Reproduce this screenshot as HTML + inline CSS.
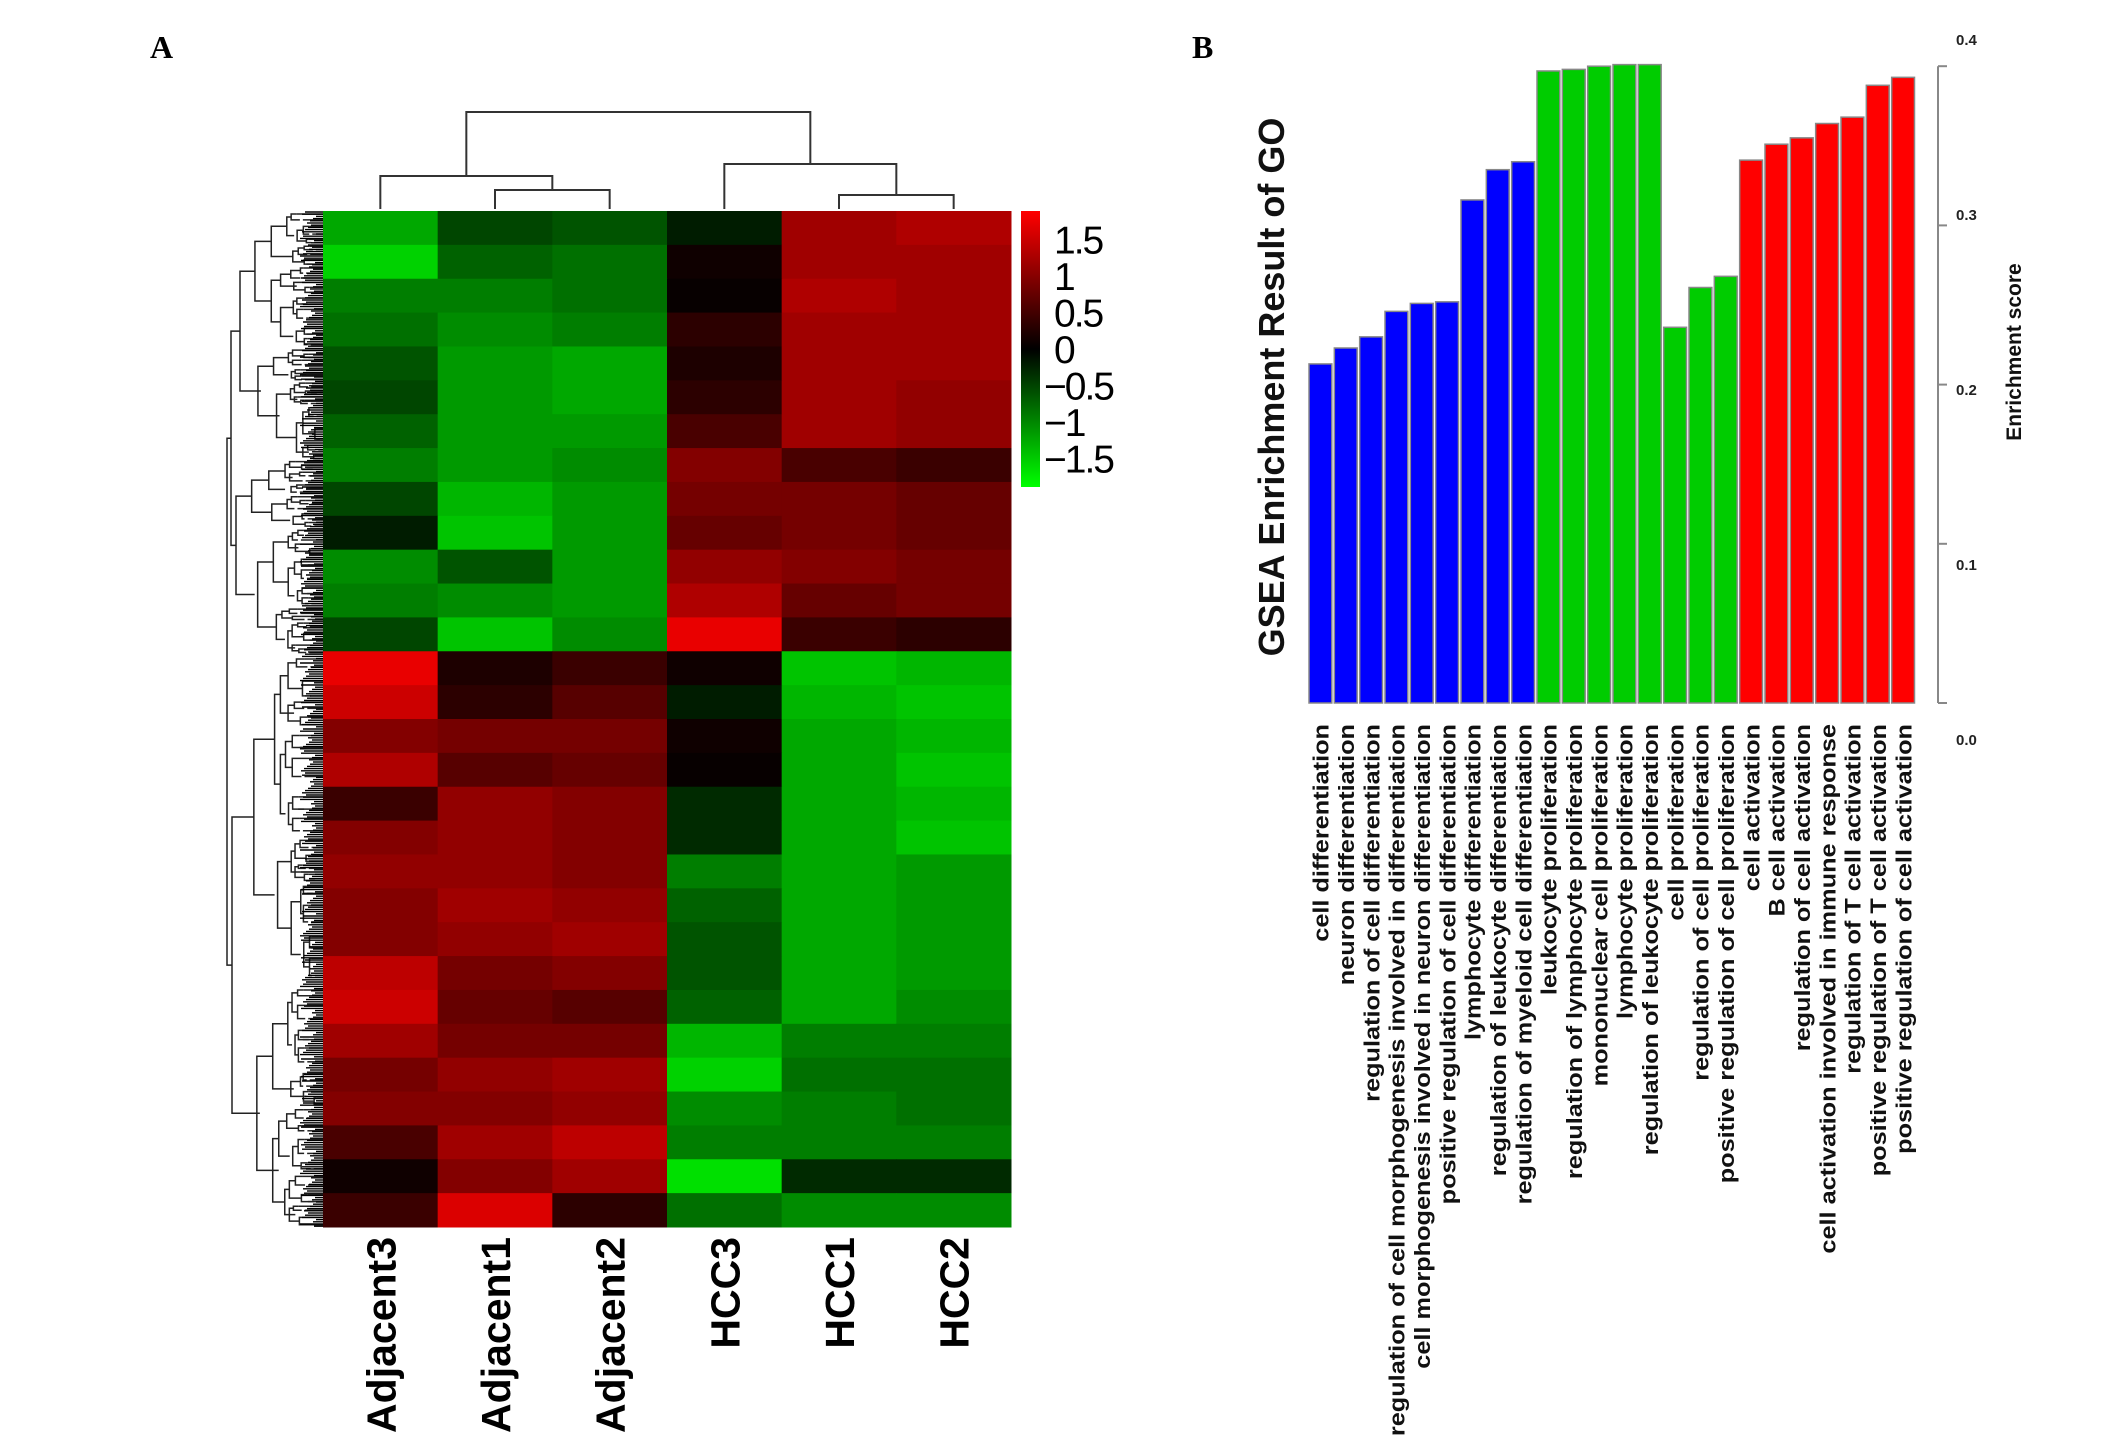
<!DOCTYPE html>
<html><head><meta charset="utf-8">
<style>
html,body{margin:0;padding:0;background:#fff;}
svg{display:block;}
text{font-family:"Liberation Sans",Arial,sans-serif;}
text.serif{font-family:"Liberation Serif","Times New Roman",serif;}
</style></head>
<body>
<svg id="fig" width="2126" height="1451" viewBox="0 0 2126 1451" xmlns="http://www.w3.org/2000/svg">
  <text class="serif" x="150" y="58" font-weight="bold" font-size="32">A</text>
  <text class="serif" x="1192" y="58" font-weight="bold" font-size="32">B</text>
  <g id="heat"></g>
  <g id="bars"></g>
</svg>
<script>
// ---------- Heatmap data ----------
const samples = ["Adjacent3","Adjacent1","Adjacent2","HCC3","HCC1","HCC2"];
const heatRows = [
[-1.2,-0.5,-0.6,-0.2,1.1,1.2],
[-1.5,-0.7,-0.8,0.1,1.1,1.1],
[-0.9,-0.9,-0.8,0.05,1.2,1.1],
[-0.8,-1.0,-0.9,0.3,1.1,1.1],
[-0.6,-1.1,-1.2,0.2,1.1,1.1],
[-0.5,-1.1,-1.2,0.3,1.1,1.0],
[-0.7,-1.1,-1.1,0.5,1.1,1.0],
[-0.9,-1.1,-1.0,0.9,0.5,0.4],
[-0.5,-1.3,-1.1,0.8,0.8,0.7],
[-0.2,-1.4,-1.1,0.7,0.8,0.7],
[-1.0,-0.6,-1.1,1.0,0.9,0.8],
[-0.9,-1.0,-1.1,1.2,0.7,0.8],
[-0.5,-1.4,-1.0,1.6,0.4,0.3],
[1.6,0.2,0.4,0.1,-1.4,-1.3],
[1.4,0.3,0.6,-0.2,-1.3,-1.4],
[0.9,0.8,0.8,0.1,-1.2,-1.3],
[1.2,0.6,0.7,0.05,-1.2,-1.4],
[0.4,1.0,0.9,-0.3,-1.2,-1.3],
[0.9,1.0,0.9,-0.3,-1.2,-1.4],
[1.0,1.0,0.9,-0.9,-1.2,-1.1],
[0.9,1.1,1.0,-0.7,-1.2,-1.1],
[0.9,1.0,1.1,-0.6,-1.2,-1.1],
[1.3,0.8,0.9,-0.6,-1.2,-1.1],
[1.4,0.7,0.6,-0.7,-1.2,-1.0],
[1.1,0.8,0.8,-1.3,-0.9,-0.9],
[0.8,1.0,1.1,-1.5,-0.8,-0.8],
[0.9,0.9,1.0,-1.0,-0.9,-0.8],
[0.5,1.1,1.3,-0.9,-0.9,-0.9],
[0.1,0.9,1.1,-1.6,-0.3,-0.3],
[0.4,1.5,0.3,-0.8,-1.0,-1.0]
];
const colorTicks = ["1.5","1","0.5","0","\u22120.5","\u22121","\u22121.5"];
const colorTickVals = [1.5,1,0.5,0,-0.5,-1,-1.5];

// ---------- Bar chart data ----------
const terms = ["cell differentiation","neuron differentiation","regulation of cell differentiation","regulation of cell morphogenesis involved in differentiation","cell morphogenesis involved in neuron differentiation","positive regulation of cell differentiation","lymphocyte differentiation","regulation of leukocyte differentiation","regulation of myeloid cell differentiation","leukocyte proliferation","regulation of lymphocyte proliferation","mononuclear cell proliferation","lymphocyte proliferation","regulation of leukocyte proliferation","cell proliferation","regulation of cell proliferation","positive regulation of cell proliferation","cell activation","B cell activation","regulation of cell activation","cell activation involved in immune response","regulation of T cell activation","positive regulation of T cell activation","positive regulation of cell activation"];
const scores = [0.213,0.223,0.230,0.246,0.251,0.252,0.316,0.335,0.340,0.397,0.398,0.400,0.401,0.401,0.236,0.261,0.268,0.341,0.351,0.355,0.364,0.368,0.388,0.393];
const groups = ["blue","blue","blue","blue","blue","blue","blue","blue","blue","green","green","green","green","green","green","green","green","red","red","red","red","red","red","red"];
const yTicks = [0.0,0.1,0.2,0.3,0.4];
const yTickLabels = ["0.0","0.1","0.2","0.3","0.4"];
</script>
<script>
const NS="http://www.w3.org/2000/svg";
function mk(tag,attrs,parent){const e=document.createElementNS(NS,tag);for(const k in attrs)e.setAttribute(k,attrs[k]);parent.appendChild(e);return e;}

// ---------- Heatmap ----------
const heat=document.getElementById('heat');
const hx0=323,hx1=1011,hy0=211,hy1=1227;
const colW=(hx1-hx0)/samples.length, rowH=(hy1-hy0)/heatRows.length;
function xCol(i){return hx0+i*colW;}
function yRow(i){return hy0+i*rowH;}
function vcolor(v){
  const t=Math.max(-1,Math.min(1,v/1.75));
  if(t>=0){return `rgb(${Math.round(255*t)},0,0)`;}
  return `rgb(0,${Math.round(245*-t)},0)`;
}
heatRows.forEach((row,r)=>{
  row.forEach((v,c)=>{
    const cell=mk('rect',{x:xCol(c),y:yRow(r),width:colW+0.5,height:rowH+0.5,fill:vcolor(v)},heat);
    
    
  });
});
samples.forEach((s,i)=>{
  const cx=xCol(i)+colW/2;
  const t=mk('text',{x:0,y:0,transform:`translate(${cx+15},1237) rotate(-90)`,'text-anchor':'end','font-size':41,'font-weight':'bold',fill:'#000'},heat);
  t.textContent=s;
  
  
});
const cd=mk('g',{stroke:'#333','stroke-width':2,fill:'none'},heat);


const C=i=>xCol(i)+colW/2;
function ubar(xa,xb,y,ya,yb){mk('path',{d:`M${xa},${ya} V${y} H${xb} V${yb}`},cd);}
ubar(C(1),C(2),190,209,209);
ubar(C(0),(C(1)+C(2))/2,176,209,190);
ubar(C(4),C(5),195,209,209);
ubar(C(3),(C(4)+C(5))/2,164,209,195);
ubar((C(0)+(C(1)+C(2))/2)/2,(C(3)+(C(4)+C(5))/2)/2,112,176,164);

const rd=mk('g',{stroke:'#222','stroke-width':1.5,fill:'none'},heat);


const splits=[0.55,0.4,0.62,0.35,0.5,0.7,0.45,0.3,0.58];
let sc=0;
function dendro(y0,y1,x,depth){
  const mid=(y0+y1)/2;
  if(depth>=7||y1-y0<6){
    mk('path',{d:`M${x},${mid} H${hx0}`},rd);
    return mid;
  }
  const f=splits[(sc++)%splits.length];
  const ys=y0+(y1-y0)*f;
  const nx=x+(hx0-x)*(0.12+0.06*((sc%4)));
  const a=dendro(y0,ys,Math.min(nx,hx0-3),depth+1);
  const b=dendro(ys,y1,Math.min(nx+(sc%3)*3,hx0-3),depth+1);
  mk('path',{d:`M${Math.min(nx,hx0-3)},${a} H${x} V${b} H${Math.min(nx+((sc-1)%3)*3,hx0-3)}`},rd);
  return (a+b)/2;
}
const top1=dendro(211,460,240,1), top2=dendro(460,655,236,1), bot=dendro(655,1227,232,1);
mk('path',{d:`M240,${top1} H231 V${top2} H236`},rd);
mk('path',{d:`M231,${(top1+top2)/2} H227 V${bot} H232`},rd);
for(let y=212;y<1227;y+=2.2){mk('line',{x1:300+((Math.floor(y)*7)%17),y1:y,x2:hx0,y2:y,stroke:'#000','stroke-width':1.4},rd);}

const defs=mk('defs',{},heat);
const lg=mk('linearGradient',{id:'ck',x1:0,y1:0,x2:0,y2:1},defs);
mk('stop',{offset:'0%','stop-color':'#ff0000'},lg);
mk('stop',{offset:'50%','stop-color':'#000000'},lg);
mk('stop',{offset:'100%','stop-color':'#00ff00'},lg);
const key=mk('rect',{x:1021,y:211,width:19,height:276,fill:'url(#ck)'},heat);


function yKey(v){return 349-v*73;}
colorTicks.forEach((lab,i)=>{
  const t=mk('text',{x:colorTickVals[i]<0?1044:1054,y:yKey(colorTickVals[i])+14,'font-size':39,fill:'#000','letter-spacing':'-2'},heat);
  t.textContent=lab;
  
  
});

// ---------- Bar chart ----------
const bars=document.getElementById('bars');
const bx0=1308,bx1=1916,by0=703,pxPer=1592;
const slot=(bx1-bx0)/scores.length;
function xBar(i){return bx0+i*slot;}
function yVal(v){return by0-v*pxPer;}
const fills={blue:'#0000ff',green:'#00cc00',red:'#ff0000'};
scores.forEach((v,i)=>{
  const r=mk('rect',{x:xBar(i)+1,y:yVal(v),width:slot-2.5,height:by0-yVal(v),fill:fills[groups[i]],stroke:'#888','stroke-width':1.5},bars);
  
  
});
terms.forEach((lab,i)=>{
  const cx=xBar(i)+slot/2;
  const t=mk('text',{'text-anchor':'end','font-size':22,'font-weight':'bold',fill:'#111'},bars);
  t.setAttribute('transform',`translate(${cx+8},724) rotate(-90) scale(1.15,1)`);
  t.textContent=lab;
  
  
});
const ax=mk('line',{x1:1938,y1:yVal(0.4),x2:1938,y2:by0,stroke:'#888','stroke-width':2},bars);


yTicks.forEach((v,i)=>{
  mk('line',{x1:1938,y1:yVal(v),x2:1947,y2:yVal(v),stroke:'#888','stroke-width':2},bars);
  const t=mk('text',{x:1956,y:745-i*175,'font-size':15,'font-weight':'bold',fill:'#222'},bars);
  t.textContent=yTickLabels[i];
  
  
});
const yt=mk('text',{transform:'translate(2021,352) rotate(-90)','text-anchor':'middle','font-size':21,'font-weight':'bold',fill:'#111'},bars);
yt.textContent='Enrichment score';


const ct=mk('text',{transform:'translate(1284,387) rotate(-90)','text-anchor':'middle','font-size':36,'font-weight':'bold',fill:'#111'},bars);
ct.textContent='GSEA Enrichment Result of GO';


</script>
</body></html>
